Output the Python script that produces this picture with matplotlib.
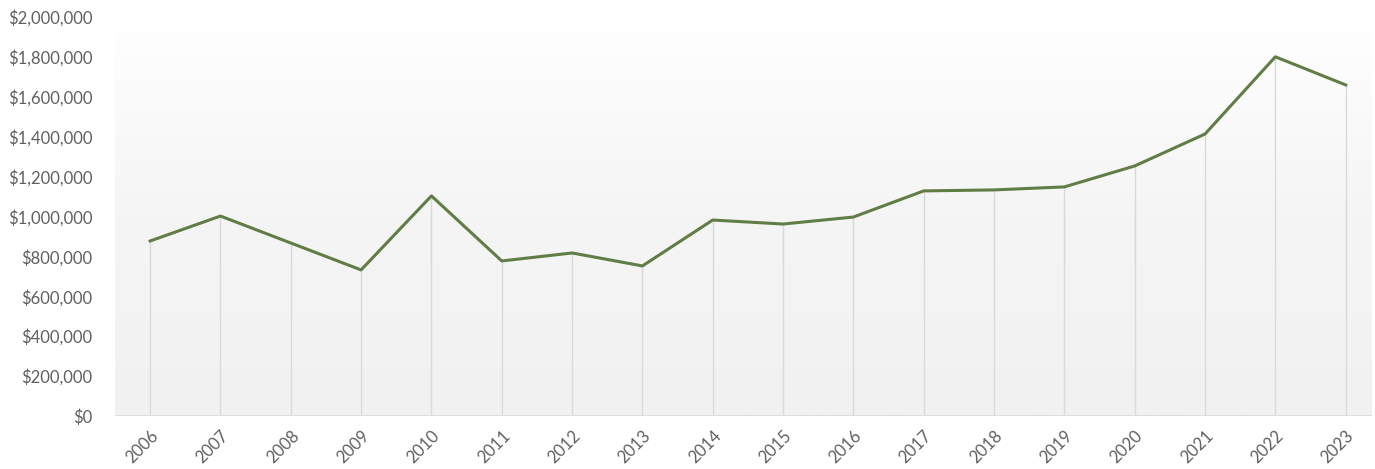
import numpy as np
import matplotlib.pyplot as plt
from matplotlib.colors import LinearSegmentedColormap
from matplotlib.ticker import FuncFormatter

years = [str(y) for y in range(2006, 2024)]
values = [877000, 1002000, 867000, 732000, 1103000, 777000, 817000, 752000,
          982000, 962000, 997000, 1128000, 1133000, 1148000, 1253000, 1413000,
          1800000, 1659000]

plt.rcParams['font.family'] = ['Lato', 'DejaVu Sans']

fig = plt.figure(figsize=(13.75, 4.69), dpi=100)
ax = fig.add_axes([0.0836, 0.113, 0.914, 0.851])

x = np.arange(len(years))
x0, x1 = -0.5, len(years) - 0.63
ax.set_xlim(x0, x1)
ax.set_ylim(0, 2000000)

# soft vertical gradient behind the plot
bg = LinearSegmentedColormap.from_list('bg', ['#f1f1f1', '#f5f5f5', '#ffffff'])
ax.imshow(np.linspace(0, 1, 256).reshape(-1, 1), extent=[x0, x1, 0, 2000000],
          aspect='auto', origin='lower', zorder=0, cmap=bg)

ax.vlines(x, 0, values, color='#d9d9d9', lw=1, zorder=1)
ax.axhline(0, color='#d9d9d9', lw=1.2, zorder=1)
ax.plot(x, values, color='#5f7d45', lw=2.2, zorder=3)

ax.set_xticks(x)
ax.set_xticklabels(years, rotation=45, ha='right', rotation_mode='anchor')
ax.set_yticks(np.arange(0, 2000001, 200000))
ax.yaxis.set_major_formatter(FuncFormatter(lambda v, p: f'${v:,.0f}'))
ax.tick_params(axis='both', length=0, colors='#606060', labelsize=12)
ax.tick_params(axis='x', pad=8)
ax.tick_params(axis='y', pad=16)
for s in ax.spines.values():
    s.set_visible(False)

fig.savefig('out.png', dpi=100, facecolor='white')
